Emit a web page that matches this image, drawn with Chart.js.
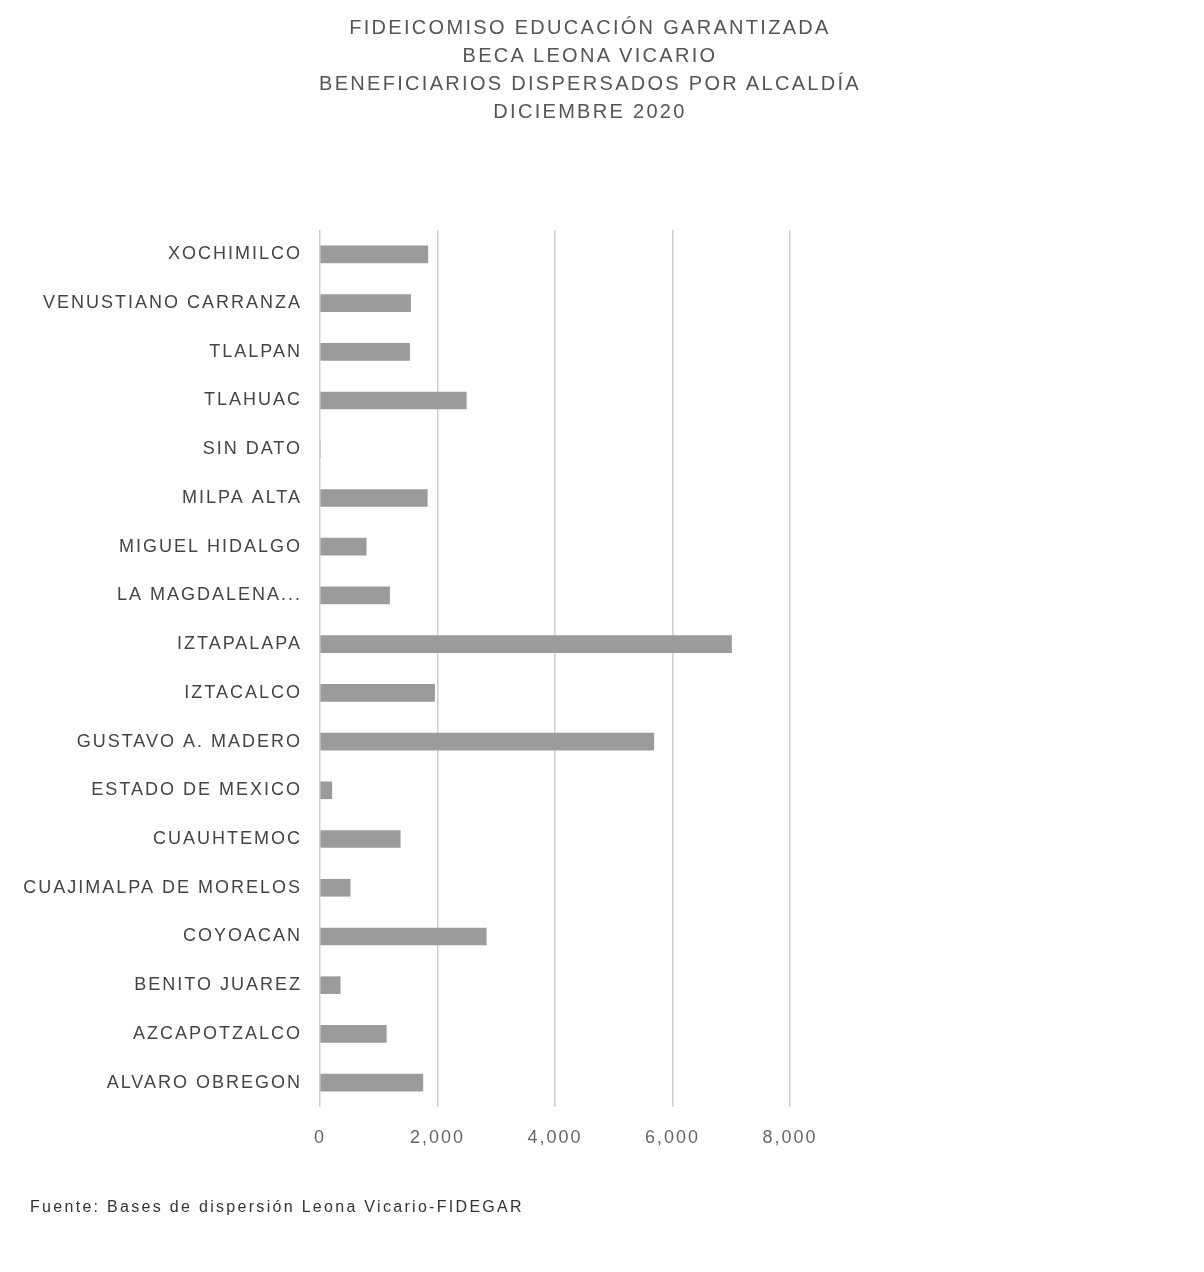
<!DOCTYPE html>
<html>
<head>
<meta charset="utf-8">
<script src="https://cdn.jsdelivr.net/npm/chart.js@4.4.1/dist/chart.umd.min.js"></script>
<style>
    body { margin: 0; background: #fff; }
    #wrap { position: relative; width: 1204px; height: 1272px; }
    #titles {
        position: absolute; top: 13px; left: 0; width: 1180px;
        text-align: center; font-family: "Liberation Sans", Arial, sans-serif;
        font-size: 20px; line-height: 28px; color: #555; letter-spacing: 2.3px;
    }
    #source {
        position: absolute; top: 1198px; left: 30px;
        font-family: "Liberation Sans", Arial, sans-serif; font-size: 16px; color: #333;
        letter-spacing: 2.3px;
    }
</style>
</head>
<body>
<div id="wrap">
    <canvas id="chart" width="1204" height="1272"></canvas>
    <div id="titles">
        FIDEICOMISO EDUCACIÓN GARANTIZADA<br>
        BECA LEONA VICARIO<br>
        BENEFICIARIOS DISPERSADOS POR ALCALDÍA<br>
        DICIEMBRE 2020
    </div>
    <div id="source">Fuente: Bases de dispersión Leona Vicario-FIDEGAR</div>
</div>
<script>
// Alcaldías, top to bottom as shown
const alcaldias = [
    'XOCHIMILCO', 'VENUSTIANO CARRANZA', 'TLALPAN', 'TLAHUAC', 'SIN DATO',
    'MILPA ALTA', 'MIGUEL HIDALGO', 'LA MAGDALENA...', 'IZTAPALAPA', 'IZTACALCO',
    'GUSTAVO A. MADERO', 'ESTADO DE MEXICO', 'CUAUHTEMOC', 'CUAJIMALPA DE MORELOS',
    'COYOACAN', 'BENITO JUAREZ', 'AZCAPOTZALCO', 'ALVARO OBREGON'
];

// Beneficiarios dispersados
const beneficiarios = [
    1836, 1542, 1525, 2490, 0,
    1826, 787, 1184, 7005, 1951,
    5682, 201, 1366, 514,
    2831, 344, 1128, 1751
];

const xTicks = [0, 2000, 4000, 6000, 8000];

// Wider lettering, like the scanned original
const letterSpacingPlugin = {
    id: 'letterSpacing',
    beforeLayout: chart => { chart.ctx.letterSpacing = '2px'; },
    beforeDraw: chart => { chart.ctx.letterSpacing = '2px'; }
};

function initializeChart() {
    const font = { family: '"Liberation Sans", Arial, sans-serif', size: 18 };

    new Chart(document.getElementById('chart'), {
        type: 'bar',
        data: {
            labels: alcaldias,
            datasets: [{
                label: 'Beneficiarios',
                data: beneficiarios,
                backgroundColor: '#9b9b9b',
                barThickness: 17
            }]
        },
        plugins: [letterSpacingPlugin],
        options: {
            indexAxis: 'y',
            responsive: false,
            animation: false,
            layout: {
                padding: { top: 230, right: 414, bottom: 0, left: 0 }
            },
            plugins: {
                legend: { display: false },
                tooltip: { enabled: false }
            },
            scales: {
                x: {
                    min: 0,
                    max: 8000,
                    afterBuildTicks: scale => {
                        scale.ticks = xTicks.map(v => ({ value: v }));
                    },
                    afterFit: scale => { scale.height = 165; },
                    grid: { color: '#cfcfcf', lineWidth: 1.5, drawTicks: false },
                    border: { display: false },
                    ticks: {
                        color: '#666',
                        font: font,
                        padding: 20,
                        callback: v => v.toLocaleString('en-US')
                    }
                },
                y: {
                    afterFit: scale => { scale.width = 320; },
                    grid: { display: false, drawTicks: false },
                    border: { display: false },
                    ticks: {
                        color: '#444',
                        font: font,
                        padding: 18,
                        autoSkip: false
                    }
                }
            }
        }
    });
}

document.addEventListener('DOMContentLoaded', initializeChart);
</script>
</body>
</html>
